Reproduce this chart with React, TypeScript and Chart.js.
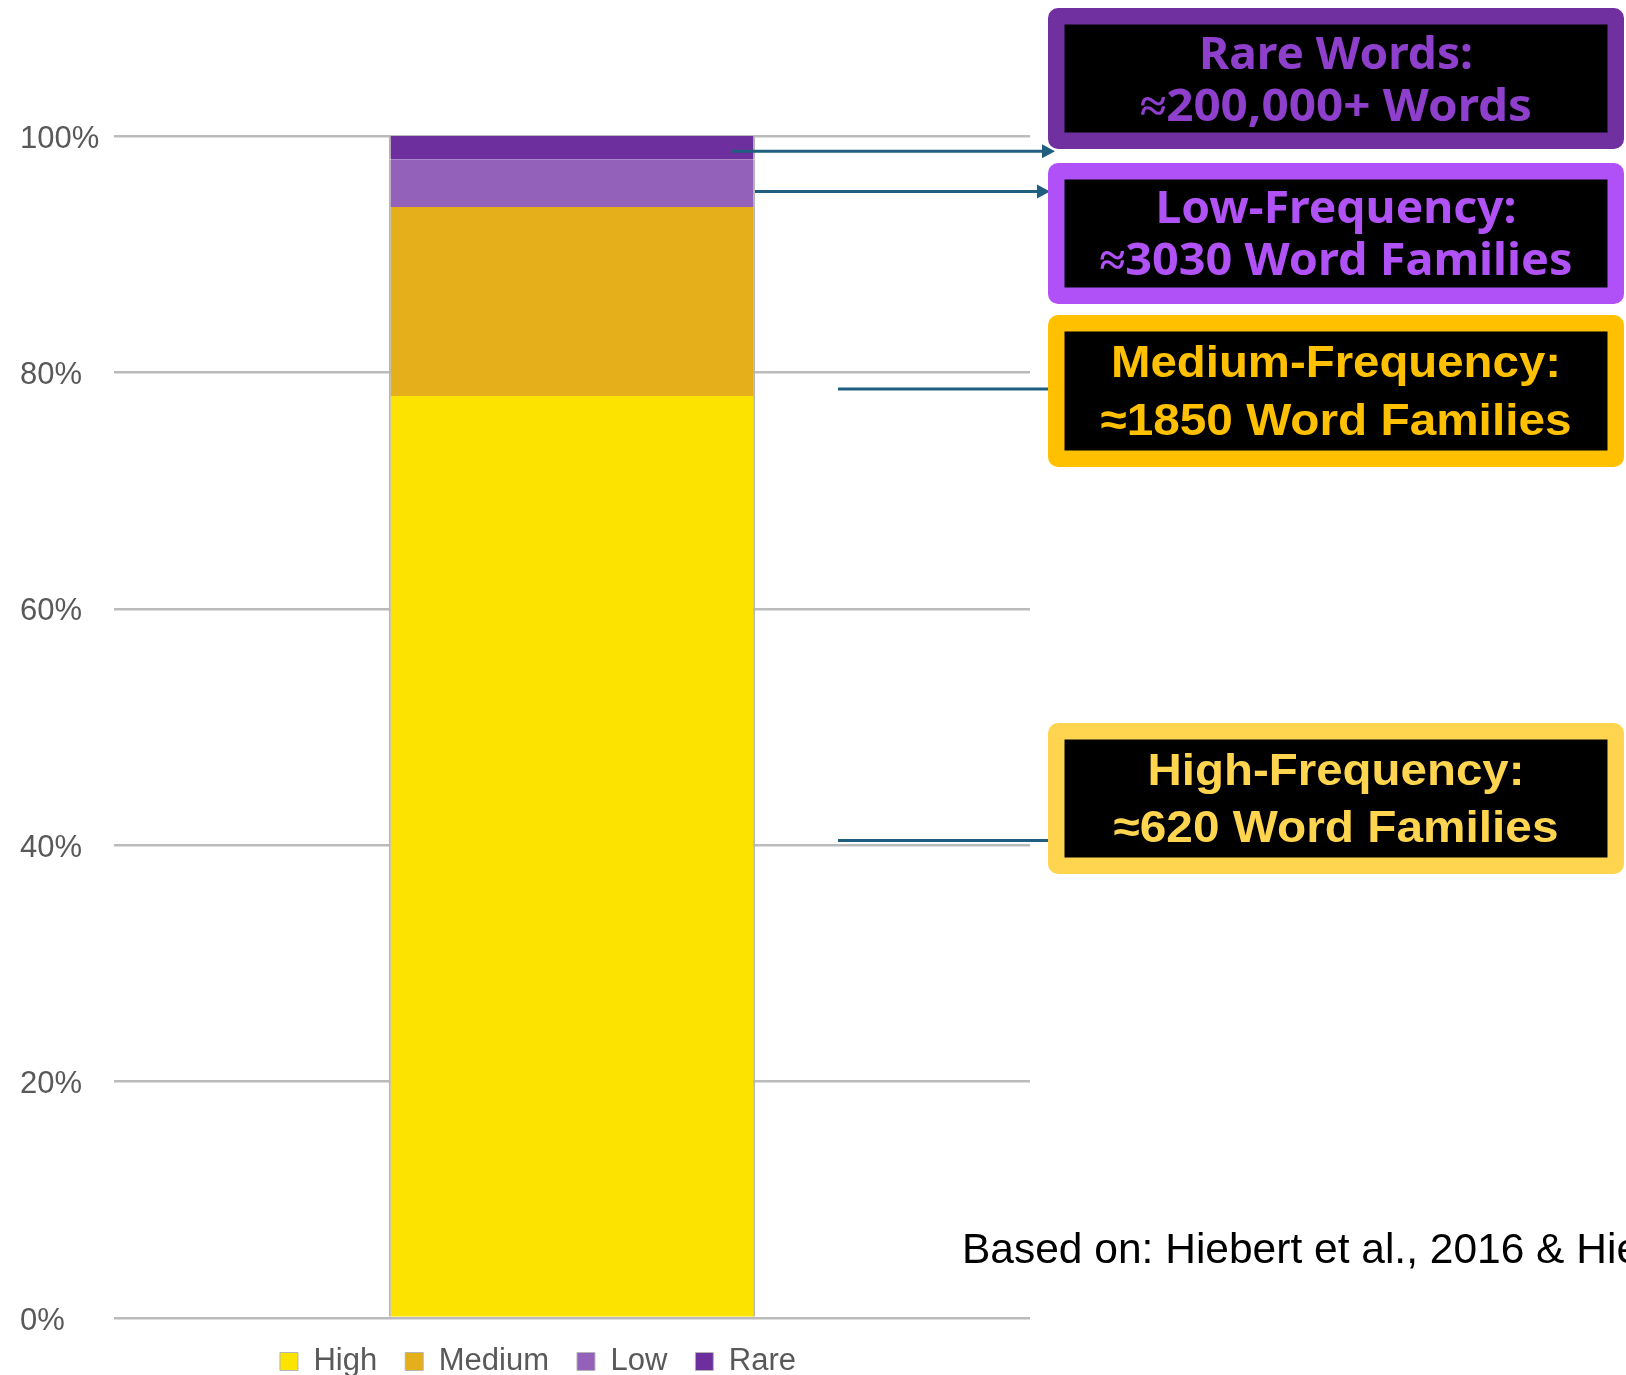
import React, { useEffect, useRef } from "react";
import { Chart, registerables } from "chart.js";

Chart.register(...registerables);

// ---------- data ----------
const categories = [""];
const seriesNames = ["High", "Medium", "Low", "Rare"];
const highValues = [78];
const mediumValues = [16];
const lowValues = [4];
const rareValues = [2];
const seriesColors = ["#FCE300", "#E5AE1B", "#9360BA", "#6E2F9E"];
const yTickValues = [0, 20, 40, 60, 80, 100];

const calloutTitles = ["Rare Words:", "Low-Frequency:", "Medium-Frequency:", "High-Frequency:"];
const calloutDetails = ["≈200,000+ Words", "≈3030 Word Families", "≈1850 Word Families", "≈620 Word Families"];
// value (in %) where each connector line leaves the bar
const calloutAnchors = [98.7, 95.3, 78.6, 40.4];
const sourceNote = "Based on: Hiebert et al., 2016 & Hiebert";

// ---------- callout styling / layout ----------
const boxLeft = 1048;
const boxRight = 1624;
const boxBorder = 16.5;
const calloutStyles = [
  { top: 8, bottom: 149, frame: "#7030A0", text: "#8E3FCB", family: '"Noto Sans"', w1: 274, w2: 392, b1: 69, b2: 121, x0: 731, tip: 1055, arrow: true },
  { top: 163, bottom: 304, frame: "#B050F7", text: "#B152F7", family: '"Noto Sans"', w1: 361, w2: 473, b1: 223, b2: 275, x0: 755, tip: 1050, arrow: true },
  { top: 315, bottom: 467, frame: "#FFC000", text: "#FFC000", family: '"Liberation Sans"', w1: 450, w2: 471, b1: 377, b2: 435, x0: 838, tip: 1050, arrow: false },
  { top: 723, bottom: 874, frame: "#FFD54F", text: "#FFD54F", family: '"Liberation Sans"', w1: 377, w2: 445, b1: 785, b2: 842, x0: 838, tip: 1050, arrow: false },
];

function fitText(ctx: CanvasRenderingContext2D, text: string, cx: number, baseline: number, font: string, targetW: number) {
  ctx.save();
  ctx.font = font;
  const w = ctx.measureText(text).width || 1;
  ctx.translate(cx, baseline);
  ctx.scale(targetW / w, 1);
  ctx.textAlign = "center";
  ctx.textBaseline = "alphabetic";
  ctx.fillText(text, 0, 0);
  ctx.restore();
}

const calloutPlugin = {
  id: "callouts",
  afterDraw(chart: any) {
    const ctx: CanvasRenderingContext2D = chart.ctx;
    const yScale = chart.scales.y;
    ctx.save();
    // connectors
    calloutStyles.forEach((s, i) => {
      const py = yScale.getPixelForValue(calloutAnchors[i]);
      ctx.strokeStyle = "#1F5E7E";
      ctx.fillStyle = "#1F5E7E";
      ctx.lineWidth = 3;
      ctx.beginPath();
      ctx.moveTo(s.x0, py);
      ctx.lineTo(s.arrow ? s.tip - 10 : s.tip, py);
      ctx.stroke();
      if (s.arrow) {
        ctx.beginPath();
        ctx.moveTo(s.tip, py);
        ctx.lineTo(s.tip - 13, py - 7);
        ctx.lineTo(s.tip - 13, py + 7);
        ctx.closePath();
        ctx.fill();
      }
    });
    // boxes
    const cx = (boxLeft + boxRight) / 2;
    calloutStyles.forEach((s, i) => {
      ctx.fillStyle = s.frame;
      ctx.beginPath();
      (ctx as any).roundRect(boxLeft, s.top, boxRight - boxLeft, s.bottom - s.top, 10);
      ctx.fill();
      ctx.fillStyle = "#000000";
      ctx.fillRect(boxLeft + boxBorder, s.top + boxBorder, boxRight - boxLeft - 2 * boxBorder, s.bottom - s.top - 2 * boxBorder);
      ctx.fillStyle = s.text;
      const font = `bold 45px ${s.family}`;
      fitText(ctx, calloutTitles[i], cx, s.b1, font, s.w1);
      fitText(ctx, calloutDetails[i], cx, s.b2, font, s.w2);
    });
    // source note
    ctx.fillStyle = "#000000";
    ctx.font = '42.5px "Liberation Sans"';
    ctx.textAlign = "left";
    ctx.textBaseline = "alphabetic";
    ctx.fillText(sourceNote, 962, 1263);
    ctx.restore();
  },
};

export default function App() {
  const ref = useRef<HTMLCanvasElement>(null);

  useEffect(() => {
    const valueSets = [highValues, mediumValues, lowValues, rareValues];
    const chart = new Chart(ref.current as HTMLCanvasElement, {
      type: "bar",
      data: {
        labels: categories,
        datasets: seriesNames.map((name, i) => ({
          label: name,
          data: valueSets[i],
          backgroundColor: seriesColors[i],
          borderColor: "#b5b5b5",
          borderWidth: { left: 2, right: 2, top: 0, bottom: 0 },
          borderSkipped: false,
          barPercentage: 0.4,
          categoryPercentage: 1.0,
        })),
      },
      options: {
        animation: false,
        responsive: false,
        maintainAspectRatio: false,
        layout: { padding: { left: 20, right: 570, top: 136, bottom: 0 } },
        plugins: {
          tooltip: { enabled: false },
          legend: {
            position: "bottom",
            labels: {
              color: "#595959",
              font: { size: 31, family: '"Liberation Sans"' },
              boxWidth: 18,
              boxHeight: 18,
              padding: 28,
            },
          },
        },
        scales: {
          x: { stacked: true, display: false },
          y: {
            stacked: true,
            position: "left",
            min: 0,
            max: 100,
            afterFit: (s: any) => {
              s.width = 94;
            },
            afterBuildTicks: (s: any) => {
              s.ticks = yTickValues.map((v) => ({ value: v }));
            },
            grid: { color: "#bbbbbb", lineWidth: 2.5, drawTicks: false },
            border: { display: false },
            ticks: {
              padding: 10,
              crossAlign: "far",
              labelOffset: 3,
              color: "#595959",
              font: { size: 31, family: '"Liberation Sans"' },
              callback: (v: any) => v + "%",
            },
          },
          y2: {
            position: "right",
            display: true,
            grid: { display: false },
            border: { display: false },
            ticks: { display: false },
            afterFit: (s: any) => {
              s.width = 26;
            },
          },
        },
      } as any,
      plugins: [calloutPlugin],
    });
    return () => chart.destroy();
  }, []);

  return (
    <div style={{ position: "fixed", left: 0, top: 0, width: 1626, height: 1375, overflow: "hidden", background: "#ffffff" }}>
      <canvas ref={ref} width={1626} height={1387} style={{ display: "block", width: 1626, height: 1387 }} />
    </div>
  );
}
